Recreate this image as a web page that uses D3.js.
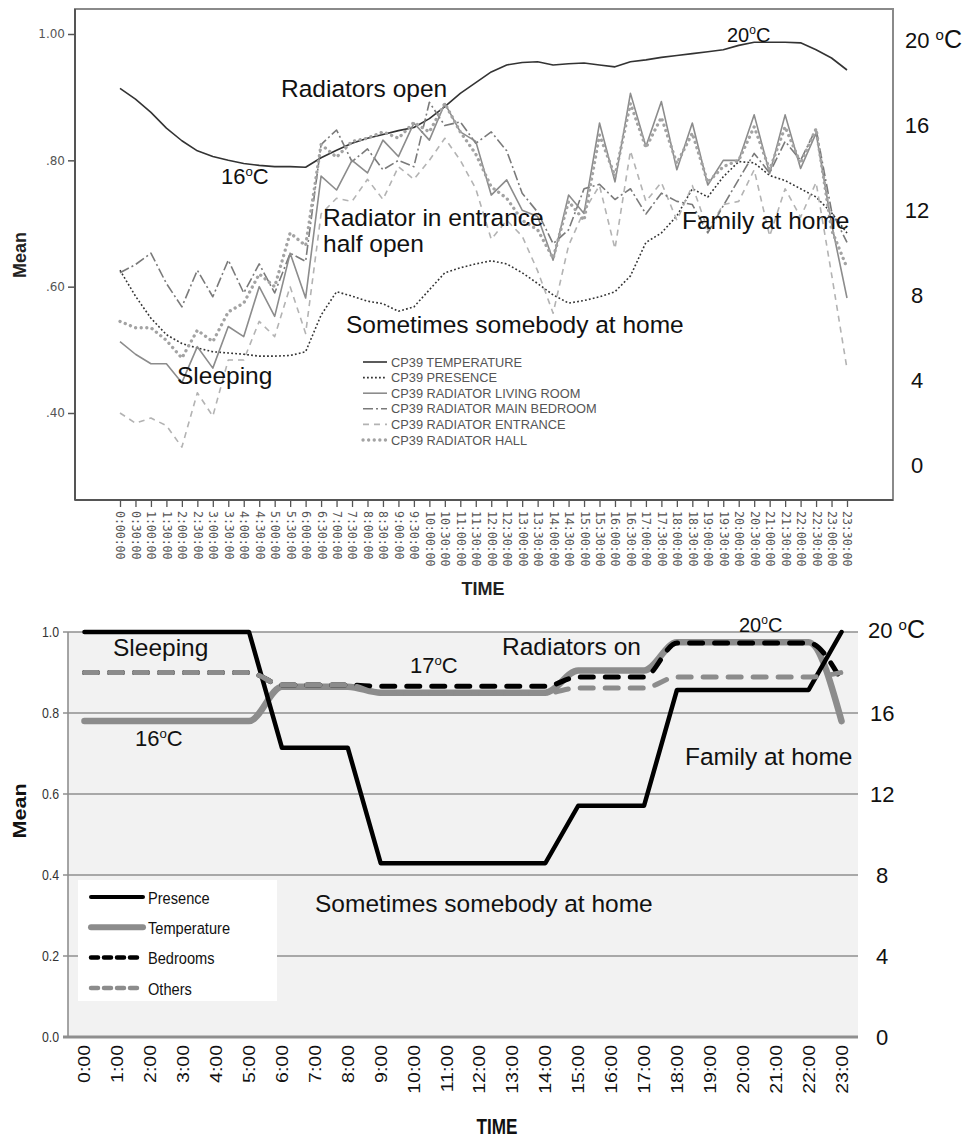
<!DOCTYPE html>
<html>
<head>
<meta charset="utf-8">
<script src="https://cdn.jsdelivr.net/npm/d3@7"></script>
<style>
  body { margin: 0; background: #fff; }
  svg { display: block; font-family: "Liberation Sans", Arial, sans-serif; }
</style>
</head>
<body>
<svg id="chart" width="968" height="1138"></svg>
<script>
// ---------- Upper panel: half-hourly means ----------
const halfHourTicks = [
  "0:00:00","0:30:00","1:00:00","1:30:00","2:00:00","2:30:00","3:00:00","3:30:00",
  "4:00:00","4:30:00","5:00:00","5:30:00","6:00:00","6:30:00","7:00:00","7:30:00",
  "8:00:00","8:30:00","9:00:00","9:30:00","10:00:00","10:30:00","11:00:00","11:30:00",
  "12:00:00","12:30:00","13:00:00","13:30:00","14:00:00","14:30:00","15:00:00","15:30:00",
  "16:00:00","16:30:00","17:00:00","17:30:00","18:00:00","18:30:00","19:00:00","19:30:00",
  "20:00:00","20:30:00","21:00:00","21:30:00","22:00:00","22:30:00","23:00:00","23:30:00"
];

const cp39Temperature = [
  0.914,0.897,0.876,0.851,0.831,0.815,0.806,0.800,0.795,0.792,0.790,0.790,
  0.789,0.804,0.816,0.827,0.835,0.841,0.847,0.852,0.866,0.885,0.906,0.923,
  0.940,0.951,0.955,0.956,0.951,0.953,0.954,0.951,0.948,0.956,0.959,0.963,
  0.966,0.969,0.972,0.975,0.982,0.987,0.987,0.987,0.986,0.975,0.962,0.943
];
const cp39Presence = [
  0.626,0.585,0.550,0.524,0.510,0.503,0.497,0.495,0.493,0.490,0.490,0.491,
  0.497,0.555,0.592,0.585,0.577,0.573,0.561,0.568,0.595,0.622,0.630,0.636,
  0.641,0.636,0.622,0.605,0.587,0.574,0.578,0.584,0.592,0.617,0.670,0.685,
  0.712,0.755,0.742,0.774,0.798,0.796,0.776,0.768,0.755,0.742,0.717,0.685
];
const cp39LivingRoom = [
  0.513,0.493,0.478,0.478,0.448,0.505,0.471,0.537,0.521,0.600,0.553,0.653,
  0.582,0.775,0.753,0.800,0.780,0.832,0.806,0.859,0.832,0.890,0.845,0.830,
  0.745,0.769,0.721,0.711,0.642,0.745,0.716,0.859,0.766,0.906,0.822,0.893,
  0.785,0.859,0.761,0.800,0.800,0.872,0.779,0.872,0.787,0.843,0.700,0.582
];
const cp39MainBedroom = [
  0.622,0.635,0.653,0.605,0.568,0.626,0.584,0.642,0.590,0.636,0.590,0.653,
  0.640,0.825,0.848,0.798,0.818,0.785,0.800,0.790,0.892,0.855,0.861,0.827,
  0.845,0.815,0.748,0.718,0.668,0.690,0.755,0.762,0.738,0.755,0.715,0.748,
  0.735,0.730,0.685,0.728,0.770,0.811,0.780,0.830,0.800,0.850,0.720,0.670
];
const cp39Entrance = [
  0.400,0.384,0.392,0.380,0.346,0.432,0.395,0.484,0.484,0.545,0.521,0.600,
  0.526,0.715,0.740,0.735,0.770,0.738,0.790,0.770,0.800,0.835,0.800,0.755,
  0.675,0.705,0.680,0.625,0.558,0.665,0.720,0.760,0.660,0.815,0.735,0.765,
  0.705,0.760,0.690,0.730,0.735,0.785,0.680,0.755,0.710,0.765,0.620,0.470
];
const cp39Hall = [
  0.545,0.535,0.535,0.515,0.487,0.531,0.513,0.560,0.574,0.620,0.600,0.685,
  0.665,0.825,0.805,0.830,0.835,0.845,0.835,0.860,0.845,0.890,0.845,0.810,
  0.758,0.740,0.705,0.690,0.645,0.735,0.705,0.840,0.775,0.890,0.820,0.868,
  0.795,0.843,0.765,0.790,0.800,0.853,0.785,0.853,0.795,0.850,0.690,0.630
];
const meanTicks = [0.4, 0.6, 0.8, 1.0];
const celsiusTicks = [0, 4, 8, 12, 16, 20];

// ---------- Lower panel: hourly profile ----------
const hours = [
  "0:00","1:00","2:00","3:00","4:00","5:00","6:00","7:00","8:00","9:00","10:00","11:00",
  "12:00","13:00","14:00","15:00","16:00","17:00","18:00","19:00","20:00","21:00","22:00","23:00"
];
const presenceHourly = [
  1,1,1,1,1,1,0.714,0.714,0.714,0.429,0.429,0.429,
  0.429,0.429,0.429,0.571,0.571,0.571,0.857,0.857,0.857,0.857,0.857,1
];
// indoor temperature in degrees C (right-hand scale)
const temperatureHourly = [
  15.6,15.6,15.6,15.6,15.6,15.6,17.3,17.3,17.3,17.0,17.0,17.0,
  17.0,17.0,17.0,18.1,18.1,18.1,19.5,19.5,19.5,19.5,19.5,15.6
];
const bedroomsHourly = [
  0.900,0.900,0.900,0.900,0.900,0.900,0.869,0.869,0.869,0.866,0.866,0.866,
  0.866,0.866,0.866,0.889,0.889,0.889,0.973,0.973,0.973,0.973,0.973,0.880
];
const othersHourly = [
  0.900,0.900,0.900,0.900,0.900,0.900,0.869,0.869,0.869,0.849,0.849,0.849,
  0.849,0.849,0.849,0.862,0.862,0.862,0.889,0.889,0.889,0.889,0.889,0.900
];
const gridTicks = [0, 0.2, 0.4, 0.6, 0.8, 1.0];

const svg = d3.select("#chart");

// helper: label such as 16ºC with a raised small "o"
function degreeLabel(g, x, y, num, size, gap) {
  const t = g.append("text").attr("x", x).attr("y", y)
    .attr("font-size", size).attr("fill", "#111");
  t.append("tspan").text(num + (gap ? " " : ""));
  t.append("tspan").text("o").attr("font-size", size * 0.6).attr("dy", -size * 0.38);
  t.append("tspan").text("C").attr("dy", size * 0.38);
  return t;
}

// ================= UPPER PANEL =================
{
  const g = svg.append("g");
  const left = 75, right = 893, topY = 9, bottom = 500;
  const x = d3.scalePoint().domain(halfHourTicks).range([120, 847]);
  const y = d3.scaleLinear().domain([0.4, 1.0]).range([413, 34]);
  const yC = d3.scaleLinear().domain([0, 20]).range([465, 40]);

  g.append("rect").attr("x", left).attr("y", topY)
    .attr("width", right - left).attr("height", bottom - topY)
    .attr("fill", "#fff").attr("stroke", "#8a8a8a").attr("stroke-width", 2);
  g.append("line").attr("x1", left).attr("x2", left).attr("y1", topY).attr("y2", bottom)
    .attr("stroke", "#555").attr("stroke-width", 2);
  g.append("line").attr("x1", left).attr("x2", right).attr("y1", bottom).attr("y2", bottom)
    .attr("stroke", "#555").attr("stroke-width", 2);

  // left axis
  const ya = g.append("g").attr("transform", `translate(${left},0)`)
    .call(d3.axisLeft(y).tickValues(meanTicks).tickSize(7).tickPadding(3)
      .tickFormat(d => d === 1 ? "1.00" : d3.format(".2f")(d).replace(/^0/, "")));
  ya.select(".domain").remove();
  ya.selectAll("line").attr("stroke", "#555").attr("stroke-width", 1.5);
  ya.selectAll("text").attr("font-size", 12).attr("fill", "#555")
    .attr("font-family", "'DejaVu Sans', sans-serif");

  // bottom axis with half-hour ticks
  const xa = g.append("g").attr("transform", `translate(0,${bottom})`)
    .call(d3.axisBottom(x).tickSize(7));
  xa.select(".domain").remove();
  xa.selectAll("line").attr("stroke", "#555").attr("stroke-width", 1.3);
  xa.selectAll("text")
    .attr("transform", "rotate(90)")
    .attr("x", 11).attr("y", 0).attr("dy", "0.35em")
    .style("text-anchor", "start")
    .attr("font-size", 11.5).attr("fill", "#555")
    .attr("font-family", "'DejaVu Sans Mono', monospace");

  // right-hand temperature labels
  g.selectAll("text.celsius").data(celsiusTicks).join("text")
    .attr("class", "celsius")
    .attr("x", d => d === 20 ? 905 : 917)
    .attr("y", d => yC(d))
    .attr("dy", "0.35em")
    .attr("text-anchor", d => d === 20 ? "start" : "middle")
    .attr("font-size", 22).attr("fill", "#111")
    .text(d => d === 20 ? null : d)
    .each(function (d) {
      if (d !== 20) return;
      const t = d3.select(this);
      t.append("tspan").text("20 ");
      t.append("tspan").text("o").attr("font-size", 15).attr("dy", -8);
      t.append("tspan").text("C").attr("dy", 8).attr("font-size", 25);
    });

  const series = [
    { name: "CP39 TEMPERATURE", values: cp39Temperature, color: "#333", width: 1.6, dash: null, cap: "butt" },
    { name: "CP39 PRESENCE", values: cp39Presence, color: "#333", width: 1.6, dash: "1.8,2.2", cap: "butt" },
    { name: "CP39 RADIATOR LIVING ROOM", values: cp39LivingRoom, color: "#8c8c8c", width: 1.6, dash: null, cap: "butt" },
    { name: "CP39 RADIATOR MAIN BEDROOM", values: cp39MainBedroom, color: "#7a7a7a", width: 1.6, dash: "10,3,2,3", cap: "butt" },
    { name: "CP39 RADIATOR ENTRANCE", values: cp39Entrance, color: "#b3b3b3", width: 1.6, dash: "6,5", cap: "butt" },
    { name: "CP39 RADIATOR HALL", values: cp39Hall, color: "#a3a3a3", width: 3.3, dash: "0.1,5.5", cap: "round" }
  ];

  const line = d3.line().x((d, i) => x(halfHourTicks[i])).y(d => y(d));
  const drawOrder = [0, 1, 4, 3, 2, 5];
  drawOrder.forEach(k => {
    const s = series[k];
    g.append("path").datum(s.values).attr("d", line)
      .attr("fill", "none").attr("stroke", s.color).attr("stroke-width", s.width)
      .attr("stroke-dasharray", s.dash).attr("stroke-linecap", s.cap)
      .attr("stroke-linejoin", "round");
  });

  // legend
  const lg = g.append("g").attr("transform", "translate(363,362)");
  series.forEach((s, i) => {
    const row = lg.append("g").attr("transform", `translate(0,${i * 15.6})`);
    row.append("line").attr("x1", 0).attr("x2", 24).attr("y1", 0).attr("y2", 0)
      .attr("stroke", s.color).attr("stroke-width", s.width)
      .attr("stroke-dasharray", s.dash).attr("stroke-linecap", s.cap);
    row.append("text").attr("x", 28).attr("y", 0).attr("dy", "0.36em")
      .attr("font-size", 12.8).attr("fill", "#555").text(s.name);
  });

  // axis titles
  g.append("text").attr("transform", "translate(26,255) rotate(-90)")
    .attr("text-anchor", "middle").attr("font-weight", "bold").attr("font-size", 18)
    .attr("fill", "#222").text("Mean");
  g.append("text").attr("x", 483).attr("y", 595).attr("text-anchor", "middle")
    .attr("font-weight", "bold").attr("font-size", 18).attr("fill", "#222").text("TIME");

  // annotations
  const ann = (tx, ax, ay, size = 24.5) =>
    g.append("text").attr("x", ax).attr("y", ay).attr("font-size", size).attr("fill", "#111").text(tx);
  ann("Radiators open", 281, 97);
  degreeLabel(g, 221, 184, "16", 22);
  ann("Radiator in entrance", 323, 226);
  ann("half open", 323, 252);
  ann("Sometimes somebody at home", 346, 333);
  ann("Sleeping", 177, 384);
  ann("Family at home", 682, 229);
  degreeLabel(g, 727, 42, "20", 20);
}

// ================= LOWER PANEL =================
{
  const g = svg.append("g");
  const left = 68, right = 858, topY = 632, bottom = 1037;
  const x = d3.scaleBand().domain(hours).range([left, right]);
  const cx = d => x(d) + x.bandwidth() / 2;
  const y = d3.scaleLinear().domain([0, 1]).range([bottom, topY]);
  const yC = d3.scaleLinear().domain([0, 20]).range([bottom, topY]);

  g.append("rect").attr("x", left).attr("y", topY)
    .attr("width", right - left).attr("height", bottom - topY).attr("fill", "#f2f2f2");

  // horizontal grid
  g.selectAll("line.grid").data(gridTicks).join("line")
    .attr("class", "grid")
    .attr("x1", left - 5).attr("x2", right)
    .attr("y1", d => y(d)).attr("y2", d => y(d))
    .attr("stroke", "#8f8f8f").attr("stroke-width", d => d === 0 ? 3 : 1.6);
  g.append("line").attr("x1", left).attr("x2", left).attr("y1", topY).attr("y2", bottom)
    .attr("stroke", "#8f8f8f").attr("stroke-width", 1.6);

  // left labels
  g.selectAll("text.ylab").data(gridTicks).join("text")
    .attr("class", "ylab")
    .attr("transform", d => `translate(59,${y(d)}) scale(0.88,1)`)
    .attr("dy", "0.36em").attr("text-anchor", "end")
    .attr("font-size", 14).attr("fill", "#333")
    .text(d => d3.format(".1f")(d));

  // right labels in degrees C
  g.selectAll("text.clab").data(celsiusTicks).join("text")
    .attr("class", "clab")
    .attr("x", d => d === 20 ? 868 : (d >= 10 ? 870 : 876))
    .attr("y", d => yC(d) + (d === 20 ? -2 : 0))
    .attr("dy", "0.35em")
    .attr("font-size", 22).attr("fill", "#111")
    .text(d => d === 20 ? null : d)
    .each(function (d) {
      if (d !== 20) return;
      const t = d3.select(this);
      t.append("tspan").text("20 ");
      t.append("tspan").text("o").attr("font-size", 15).attr("dy", -8);
      t.append("tspan").text("C").attr("dy", 8).attr("font-size", 25);
    });

  // hour labels
  g.selectAll("text.xlab").data(hours).join("text")
    .attr("class", "xlab")
    .attr("transform", d => `translate(${cx(d) + 6},1045) rotate(-90) scale(1.22,1)`)
    .attr("text-anchor", "end")
    .attr("font-size", 16).attr("fill", "#111")
    .text(d => d);

  // series
  const smooth = d3.curveMonotoneX;
  const presenceLine = d3.line().x((d, i) => cx(hours[i])).y(d => y(d));
  const tempLine = d3.line().x((d, i) => cx(hours[i])).y(d => yC(d)).curve(smooth);
  const fracLine = d3.line().x((d, i) => cx(hours[i])).y(d => y(d)).curve(smooth);

  const styles = {
    presence: { color: "#000", width: 4.5, dash: null },
    temperature: { color: "#8c8c8c", width: 6.5, dash: null },
    bedrooms: { color: "#000", width: 5, dash: "13,12" },
    others: { color: "#8c8c8c", width: 5, dash: "13,12" }
  };
  const draw = (data, gen, st) =>
    g.append("path").datum(data).attr("d", gen)
      .attr("fill", "none").attr("stroke", st.color).attr("stroke-width", st.width)
      .attr("stroke-dasharray", st.dash).attr("stroke-linecap", "round")
      .attr("stroke-linejoin", "round");

  draw(temperatureHourly, tempLine, styles.temperature);
  draw(presenceHourly, presenceLine, styles.presence);
  draw(bedroomsHourly, fracLine, styles.bedrooms);
  draw(othersHourly, fracLine, styles.others);

  // legend
  const lg = g.append("g");
  lg.append("rect").attr("x", 78).attr("y", 880).attr("width", 199).attr("height", 121)
    .attr("fill", "#fff");
  const items = [
    ["Presence", styles.presence],
    ["Temperature", styles.temperature],
    ["Bedrooms", styles.bedrooms],
    ["Others", styles.others]
  ];
  items.forEach(([name, st], i) => {
    const yy = 897 + i * 30.3;
    lg.append("line").attr("x1", 91).attr("x2", 143).attr("y1", yy).attr("y2", yy)
      .attr("stroke", st.color).attr("stroke-width", st.width - 0.5)
      .attr("stroke-dasharray", st.dash ? "7,6" : null).attr("stroke-linecap", "round");
    lg.append("text").attr("transform", `translate(148,${yy}) scale(0.86,1)`)
      .attr("dy", "0.4em").attr("font-size", 17).attr("fill", "#111").text(name);
  });

  // axis titles
  g.append("text").attr("transform", "translate(26,811) rotate(-90) scale(1.2,1)")
    .attr("text-anchor", "middle").attr("font-weight", "bold").attr("font-size", 18)
    .attr("fill", "#111").text("Mean");
  g.append("text").attr("transform", "translate(497,1134) scale(0.78,1)")
    .attr("text-anchor", "middle").attr("font-weight", "bold").attr("font-size", 22)
    .attr("fill", "#111").text("TIME");

  // annotations
  const ann = (tx, ax, ay, size = 24.5) =>
    g.append("text").attr("x", ax).attr("y", ay).attr("font-size", size).attr("fill", "#111").text(tx);
  ann("Sleeping", 113, 656);
  degreeLabel(g, 135, 746, "16", 22);
  degreeLabel(g, 410, 673, "17", 22);
  ann("Radiators on", 502, 655);
  degreeLabel(g, 739, 632, "20", 20);
  ann("Family at home", 685, 765);
  ann("Sometimes somebody at home", 315, 912);
}
</script>
</body>
</html>
